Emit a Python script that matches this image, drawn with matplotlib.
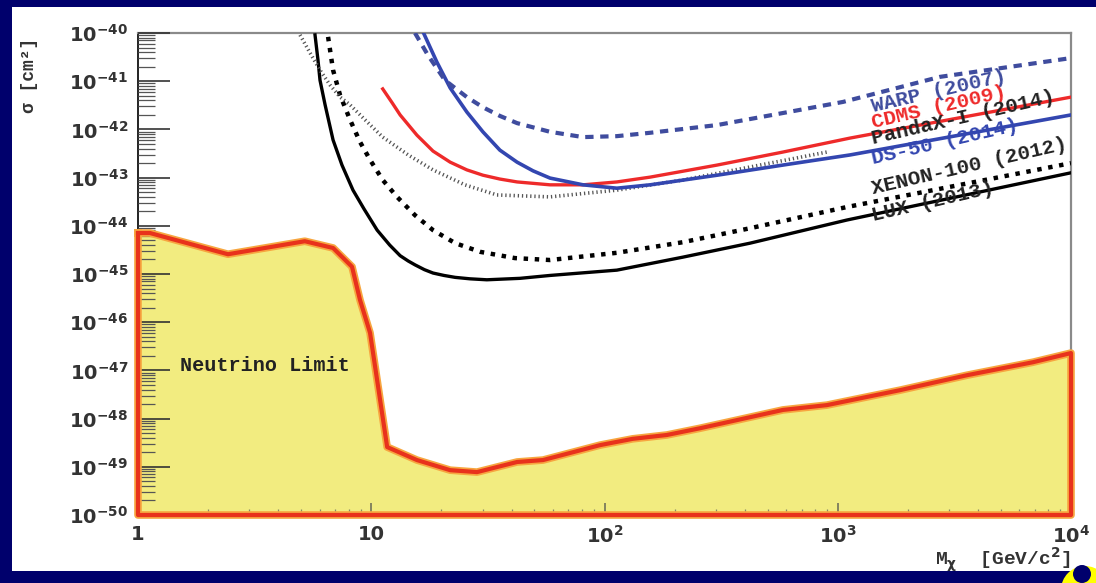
import matplotlib
matplotlib.use('Agg')
import matplotlib.pyplot as plt
import numpy as np
from matplotlib.patches import Rectangle, Circle
from matplotlib.transforms import IdentityTransform
from matplotlib.ticker import LogLocator, NullFormatter

plt.rcParams['mathtext.fontset'] = 'dejavusans'
plt.rcParams['mathtext.default'] = 'bf'

# --- datos (masa en GeV, log10 de sigma en cm^2) ---
lux_mass = [5.74, 5.91, 6.03, 6.34, 6.86, 7.49, 8.35, 9.31, 10.6, 12.0, 13.3, 14.4,
            15.4, 16.9, 18.4, 20.5, 22.9, 26.5, 31.3, 43.4, 58.4, 113, 217, 421,
            1095, 10000]
lux_logsig = [-40.04, -40.56, -40.98, -41.49, -42.22, -42.74, -43.26, -43.65, -44.09,
              -44.40, -44.62, -44.73, -44.81, -44.91, -44.98, -45.03, -45.07, -45.10,
              -45.12, -45.09, -45.03, -44.92, -44.65, -44.36, -43.88, -42.90]

xenon_mass = [6.53, 6.86, 7.35, 8.11, 8.95, 9.88, 11.2, 12.9, 15.4, 18.4, 22.9, 29.3,
              41.3, 58.4, 113, 217, 421, 1095, 10000]
xenon_logsig = [-40.08, -40.77, -41.29, -41.80, -42.26, -42.63, -43.05, -43.40, -43.78,
                -44.09, -44.36, -44.54, -44.67, -44.71, -44.56, -44.34, -44.05, -43.61,
                -42.70]

pandax_mass = [4.95, 5.46, 6.03, 6.66, 7.35, 8.11, 9.40, 11.2, 14.4, 18.4, 25.2, 34.6,
               58.4, 113, 217, 421, 899]
pandax_logsig = [-40.04, -40.41, -40.77, -41.08, -41.33, -41.49, -41.80, -42.16, -42.53,
                 -42.84, -43.15, -43.36, -43.40, -43.26, -43.05, -42.78, -42.47]

cdms_mass = [11.2, 12.3, 13.3, 15.7, 18.4, 21.8, 25.7, 30.1, 35.6, 42.2, 58.4, 80.9,
             113, 157, 304, 582, 1129, 10000]
cdms_logsig = [-41.16, -41.45, -41.70, -42.12, -42.45, -42.68, -42.84, -42.95, -43.03,
               -43.09, -43.15, -43.15, -43.09, -42.99, -42.74, -42.47, -42.18, -41.33]

ds50_mass = [16.4, 19.1, 21.8, 25.7, 30.1, 35.6, 42.2, 49.4, 58.4, 80.9, 113, 157, 304,
             582, 1129, 10000]
ds50_logsig = [-39.90, -40.60, -41.14, -41.64, -42.05, -42.43, -42.68, -42.86, -43.01,
               -43.15, -43.22, -43.15, -42.95, -42.74, -42.53, -41.70]

warp_mass = [15.4, 17.5, 20.7, 25.7, 30.1, 35.6, 42.2, 58.4, 80.9, 113, 157, 304, 582,
             1053, 2743, 10000]
warp_logsig = [-40.00, -40.46, -40.98, -41.33, -41.54, -41.72, -41.87, -42.05, -42.16,
               -42.14, -42.07, -41.91, -41.66, -41.43, -40.91, -40.52]

nu_mass = [1.0, 1.126, 2.43, 5.19, 6.86, 8.27, 8.95, 9.88, 11.7, 15.7, 21.8, 28.4, 42.2,
           54.5, 95.7, 132, 185, 257, 582, 899, 1849, 3581, 6871, 10000]
nu_logsig = [-44.15, -44.15, -44.59, -44.32, -44.46, -44.85, -45.54, -46.22, -48.59,
             -48.86, -49.07, -49.11, -48.90, -48.86, -48.55, -48.42, -48.34, -48.20,
             -47.82, -47.72, -47.41, -47.10, -46.83, -46.64]

ytick_exp = list(range(40, 51))
xtick_vals = [1, 10, 100, 1000, 10000]
xtick_labels = ['1', '10', r'$10^{2}$', r'$10^{3}$', r'$10^{4}$']

NAVY = '#00006c'
BLUE = '#3346b0'
WARP_BLUE = '#3f4c9e'
RED = '#ee2a2a'

fig = plt.figure(figsize=(10.96, 5.83), dpi=100)
fig.patch.set_facecolor(NAVY)
fig.patches.append(Rectangle((12/1096, 12/583), 1 - 12/1096, 1 - 19/583,
                             transform=fig.transFigure, facecolor='white',
                             edgecolor='none', zorder=-3))
# trozo del logo amarillo abajo a la derecha
fig.patches.append(Circle((1085, -7), 24, transform=IdentityTransform(),
                          facecolor='#ffff00', edgecolor='none', zorder=-2))
fig.patches.append(Circle((1082, 9), 9, transform=IdentityTransform(),
                          facecolor=NAVY, edgecolor='none', zorder=-1))

ax = fig.add_axes([138/1096, 68/583, 933/1096, 482/583])
ax.set_facecolor('white')
ax.set_xscale('log')
ax.set_yscale('log')
ax.set_xlim(1, 1e4)
ax.set_ylim(1e-50, 1e-40)
ax.set_axisbelow(False)

# limite de neutrinos (relleno amarillo)
nx = nu_mass + [nu_mass[-1], nu_mass[0]]
ny = list(10.0 ** np.array(nu_logsig)) + [1e-50, 1e-50]
ax.fill(nx, ny, facecolor='#f2ec80', edgecolor='none', zorder=1)
ax.plot(nx + [nx[0]], ny + [ny[0]], color='#f7a640', lw=5.5, zorder=3,
        clip_on=False, solid_joinstyle='round')
ax.plot(nx + [nx[0]], ny + [ny[0]], color='#e8321c', lw=3, zorder=4,
        clip_on=False, solid_joinstyle='round')

ax.plot(lux_mass, 10.0 ** np.array(lux_logsig), color='black', lw=2.4, zorder=5)
ax.plot(xenon_mass, 10.0 ** np.array(xenon_logsig), color='black', lw=3.2,
        ls=(0, (1.0, 1.5)), zorder=5)
ax.plot(pandax_mass, 10.0 ** np.array(pandax_logsig), color='#555555', lw=2.6,
        ls=(0, (0.35, 0.8)), zorder=5)
ax.plot(cdms_mass, 10.0 ** np.array(cdms_logsig), color=RED, lw=2.4, zorder=6)
ax.plot(ds50_mass, 10.0 ** np.array(ds50_logsig), color=BLUE, lw=2.6, zorder=6)
ax.plot(warp_mass, 10.0 ** np.array(warp_logsig), color=WARP_BLUE, lw=3.0,
        ls=(0, (2.0, 1.6)), zorder=6)

lab = dict(family='Liberation Mono', fontweight='bold', fontsize=15,
           rotation=13, rotation_mode='anchor', ha='left', va='baseline', zorder=7)
ax.text(1420, 10**-41.64, 'WARP (2007)', color=WARP_BLUE, **lab)
ax.text(1420, 10**-41.98, 'CDMS (2009)', color=RED, **lab)
ax.text(1420, 10**-42.30, 'PandaX-I (2014)', color='#222222', **lab)
ax.text(1420, 10**-42.72, 'DS-50 (2014)', color=BLUE, **lab)
ax.text(1420, 10**-43.34, 'XENON-100 (2012)', color='#222222', **lab)
ax.text(1420, 10**-43.90, 'LUX (2013)', color='#222222', **lab)

ax.text(1.51, 10**-46.89, 'Neutrino Limit', family='Liberation Mono',
        fontweight='bold', fontsize=14.5, color='#222222', va='center', zorder=7)

# ejes y ticks
ax.set_yticks([10.0 ** -k for k in ytick_exp])
ax.set_yticklabels([rf'$10^{{-{k}}}$' for k in ytick_exp])
ax.yaxis.set_minor_locator(LogLocator(base=10, subs=range(2, 10), numticks=100))
ax.yaxis.set_minor_formatter(NullFormatter())
ax.set_xticks(xtick_vals)
ax.set_xticklabels(xtick_labels)
ax.xaxis.set_minor_locator(LogLocator(base=10, subs=range(2, 10), numticks=100))
ax.xaxis.set_minor_formatter(NullFormatter())

ax.tick_params(axis='y', which='major', direction='in', length=23, width=1.2,
               color='#333333', pad=7, labelsize=14, labelcolor='#333333')
ax.tick_params(axis='y', which='minor', direction='in', length=12, width=0.9,
               color='#555555')
ax.tick_params(axis='x', which='major', direction='in', length=9, width=1.1,
               color='#666655', pad=7, labelsize=14, labelcolor='#333333')
ax.tick_params(axis='x', which='minor', direction='in', length=4, width=0.9,
               color='#888866')
for t in ax.get_xticklabels() + ax.get_yticklabels():
    t.set_fontweight('bold')

for s in ['top', 'right']:
    ax.spines[s].set_color('#8a8a8a')
    ax.spines[s].set_linewidth(1.6)
ax.spines['left'].set_color('#222222')
ax.spines['left'].set_linewidth(1.4)
ax.spines['bottom'].set_color('#e8321c')
ax.spines['bottom'].set_linewidth(2)

fig.text(30/1096, 1 - 75/583, 'σ [cm²]', rotation=90, family='Liberation Mono',
         fontweight='bold', fontsize=13, color='#333333', ha='center', va='center')
fig.text(1070/1096, 1 - 560/583, r'M$_{\chi}$  [GeV/c$^{2}$]', family='Liberation Mono',
         fontweight='bold', fontsize=14, color='#333333', ha='right', va='center')

fig.savefig('out.png', dpi=100, facecolor=fig.get_facecolor())
